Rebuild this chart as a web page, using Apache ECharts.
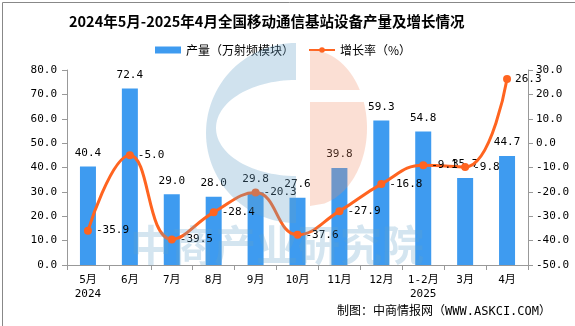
<!DOCTYPE html>
<html><head><meta charset="utf-8">
<script src="https://cdn.jsdelivr.net/npm/echarts@6/dist/echarts.min.js"></script>
<style>html,body{margin:0;padding:0;background:#fff}#c{width:575px;height:326px;box-sizing:border-box}</style>
</head><body><div id="c"></div>
<script>
const categories = ['5月\n2024','6月','7月','8月','9月','10月','11月','12月','1-2月\n2025','3月','4月'];
const production = [40.4,72.4,29.0,28.0,29.8,27.6,39.8,59.3,54.8,35.7,44.7];
const growth = [-35.9,-5.0,-39.5,-28.4,-20.3,-37.6,-27.9,-16.8,-9.1,-9.8,26.3];
const title = '2024年5月-2025年4月全国移动通信基站设备产量及增长情况';
const legendNames = ['产量（万射频模块）','增长率（%）'];
const source = '制图：中商情报网（WWW.ASKCI.COM）';
const watermark = '中商产业研究院';

// watermark logo outline helpers (decoration only)
function arcPts(cx, cy, rx, ry, a0, a1, n) {
  const pts = [];
  for (let i = 0; i <= n; i++) {
    const a = (a0 + (a1 - a0) * i / n) * Math.PI / 180;
    pts.push([cx + rx * Math.cos(a), cy + ry * Math.sin(a)]);
  }
  return pts;
}
const logoBlue = arcPts(296,133,90,90,-90,-270,60).concat(arcPts(296,128,80,48,90,270,60));
function halfEllipseBand(y0, y1) {
  const cx = 310, cy = 128, rx = 57, ry = 78, pts = [];
  for (let i = 0; i <= 40; i++) {
    const y = y0 + (y1 - y0) * i / 40;
    const t = Math.max(0, 1 - ((y - cy) / ry) ** 2);
    pts.push([cx + rx * Math.sqrt(t), y]);
  }
  pts.push([cx, y1]); pts.push([cx, y0]);
  return pts;
}
const logoPink1 = halfEllipseBand(50, 90);
const logoPink2 = halfEllipseBand(102, 206);

const FONT = '"DejaVu Sans Mono","Noto Sans CJK SC",monospace';
const chart = echarts.init(document.getElementById('c'));
chart.setOption({
  animation:false,
  backgroundColor:'#fff',
  title:{text:title,left:64,top:9,textStyle:{fontFamily:'"Noto Sans CJK SC",sans-serif',fontSize:14.5,fontWeight:'bold',color:'#000'}},
  legend:{top:39,left:150,itemGap:14,itemWidth:26,itemHeight:7,
    textStyle:{fontFamily:'"Noto Sans CJK SC",sans-serif',fontSize:12,color:'#000'},
    data:[{name:legendNames[0],icon:'rect'},{name:legendNames[1]}]},
  grid:{left:67,right:47,top:70,bottom:61},
  xAxis:{type:'category',data:categories,
    axisLine:{lineStyle:{color:'#999'}},
    axisTick:{show:true,alignWithLabel:false,length:5,lineStyle:{color:'#999'}},
    axisLabel:{fontFamily:FONT,fontSize:11,color:'#000',interval:0,lineHeight:14,margin:8}},
  yAxis:[
    {type:'value',min:0,max:80,interval:10,position:'left',
     axisLine:{show:true,lineStyle:{color:'#999'}},axisTick:{show:true,length:5,lineStyle:{color:'#999'}},
     splitLine:{show:false},
     axisLabel:{fontFamily:FONT,fontSize:11,color:'#000',formatter:v=>v.toFixed(1),margin:10}},
    {type:'value',min:-50,max:30,interval:10,position:'right',
     axisLine:{show:true,lineStyle:{color:'#999'}},axisTick:{show:true,length:5,lineStyle:{color:'#999'}},
     splitLine:{show:false},
     axisLabel:{fontFamily:FONT,fontSize:11,color:'#000',formatter:v=>v.toFixed(1),margin:8}}
  ],
  series:[
    {name:legendNames[0],type:'bar',data:production,barWidth:16,yAxisIndex:0,
     itemStyle:{color:'#3E9BF0'},
     label:{show:true,position:'top',distance:8,fontFamily:FONT,fontSize:11,color:'#000',formatter:p=>p.value.toFixed(1)}},
    {name:legendNames[1],type:'line',data:growth,yAxisIndex:1,smooth:0.45,
     symbol:'circle',symbolSize:8,
     lineStyle:{color:'#FF6420',width:3},itemStyle:{color:'#FF6420'},
     label:{show:true,position:'right',distance:4,fontFamily:FONT,fontSize:11,color:'#000',formatter:p=>p.value.toFixed(1)},
     z:5}
  ],
  graphic:[
    {type:'rect',left:0,top:0,shape:{width:574,height:325},style:{fill:'none',stroke:'#888',lineWidth:1},silent:true,z:0},
    {type:'polygon',shape:{points:logoBlue},style:{fill:'rgba(100,160,200,0.3)'},z:10,silent:true},
    {type:'polygon',shape:{points:logoPink1},style:{fill:'rgba(240,140,100,0.28)'},z:10,silent:true},
    {type:'polygon',shape:{points:logoPink2},style:{fill:'rgba(240,140,100,0.28)'},z:10,silent:true},
    {type:'text',left:130,top:224,style:{text:watermark,fill:'rgba(100,160,200,0.28)',font:'bold 42px "Noto Sans CJK SC"'},z:10,silent:true},
    {type:'text',right:24,bottom:8,style:{text:source,fill:'#000',font:'12px "DejaVu Sans Mono","Noto Sans CJK SC"'},z:20}
  ]
});
</script></body></html>
